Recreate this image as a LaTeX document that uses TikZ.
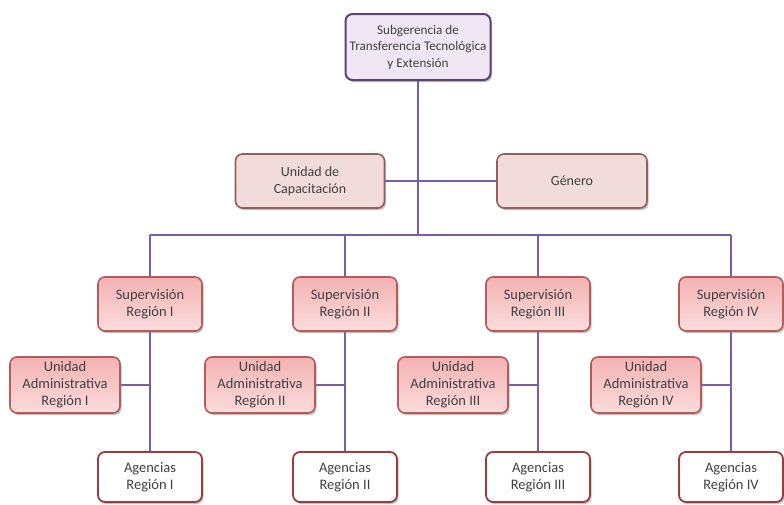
\documentclass[tikz,border=0pt]{standalone}
\usepackage{fontspec}
\setmainfont{Carlito}
\usepackage{xcolor}
\usepackage{tikz}
\usetikzlibrary{positioning, shadows, calc}
\definecolor{headfill}{HTML}{EFE7F3}
\definecolor{headdraw}{HTML}{5C4374}
\definecolor{unitfill}{HTML}{F2DCDB}
\definecolor{unitdraw}{HTML}{955E5C}
\definecolor{regtop}{HTML}{F4B2B2}
\definecolor{regbot}{HTML}{FBDCDC}
\definecolor{regdraw}{HTML}{B65A5A}
\definecolor{agdraw}{HTML}{A23A3A}
\definecolor{linkcol}{HTML}{7A5CA8}

\begin{document}
\begin{tikzpicture}[x=1pt, y=-1pt,
  box/.style={rectangle, rounded corners=7pt, align=center,
              inner sep=2pt, font=\fontsize{14.5}{17}\selectfont,
              text=black!75,
              drop shadow={shadow xshift=1.5pt, shadow yshift=-2pt,
                           opacity=0.25, fill=black}},
  head/.style={box, fill=headfill, draw=headdraw, line width=2pt,
               font=\fontsize{13.2}{16.5}\selectfont,
               minimum width=145pt, minimum height=66pt},
  unit/.style={box, fill=unitfill, draw=unitdraw, line width=1.6pt,
               font=\fontsize{14}{17}\selectfont,
               minimum width=149pt, minimum height=54pt},
  region/.style={box, top color=regtop, bottom color=regbot,
                 draw=regdraw, line width=1.6pt,
                 minimum width=104pt, minimum height=54pt},
  admin/.style={region, minimum width=110pt, minimum height=56pt},
  agency/.style={box, fill=white, draw=agdraw, line width=1.8pt,
                 minimum width=104pt, minimum height=50pt},
  link/.style={draw=linkcol, line width=1.6pt}
]
\useasboundingbox (0,0) rectangle (784,504);

% top level
\node[head] (sub) at (418,47)
  {Subgerencia de\\Transferencia Tecnológica\\y Extensión};

\node[unit] (cap) at (310,181) {Unidad de\\Capacitación};
\node[unit, minimum width=150pt] (gen) at (572,181) {Género};

\coordinate (bus) at (418,235);
\draw[link] (sub.south) -- (bus);
\draw[link] (cap.east) -- (gen.west);

% regions
\foreach \r/\x/\n in {1/150/I, 2/345/II, 3/538/III, 4/731/IV} {
  \node[region] (sup\r) at (\x,304) {Supervisión\\Región \n};
  \node[agency] (ag\r) at (\x,477) {Agencias\\Región \n};
  \node[admin] (adm\r) at (\x-85,385)
    {Unidad\\Administrativa\\Región \n};
  \coordinate (top\r) at (\x,235);
  \coordinate (join\r) at (\x,385);
  \draw[link] (top\r) -- (sup\r.north);
  \draw[link] (sup\r.south) -- (ag\r.north);
  \draw[link] (adm\r.east) -- (join\r);
}
\draw[link] (top1) -- (top4);

\end{tikzpicture}
\end{document}
